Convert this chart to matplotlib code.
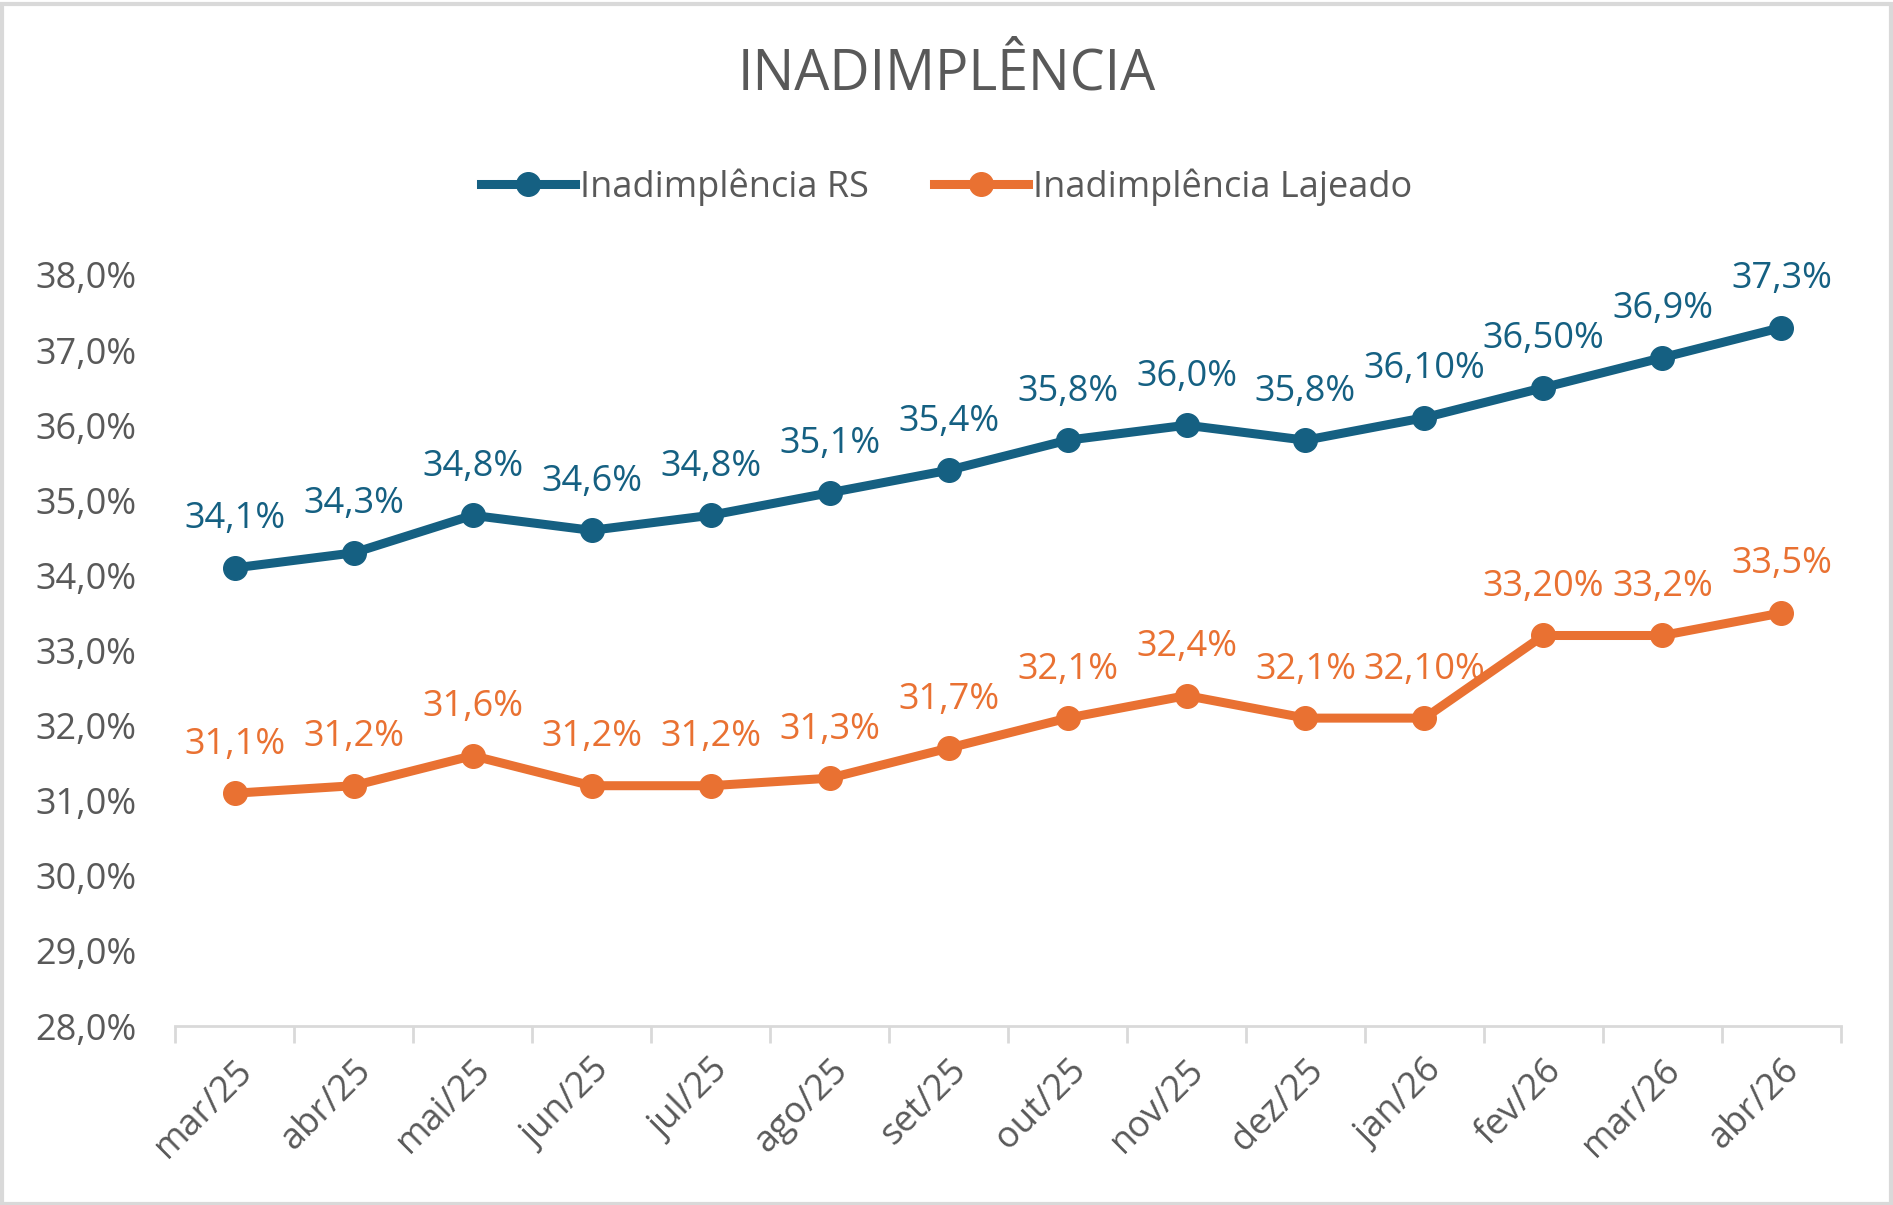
import matplotlib
matplotlib.use("Agg")
import matplotlib.pyplot as plt
from matplotlib.lines import Line2D
from matplotlib.patches import Rectangle

# Dados
meses = ["mar/25", "abr/25", "mai/25", "jun/25", "jul/25", "ago/25", "set/25",
         "out/25", "nov/25", "dez/25", "jan/26", "fev/26", "mar/26", "abr/26"]
inad_rs = [34.1, 34.3, 34.8, 34.6, 34.8, 35.1, 35.4, 35.8, 36.0, 35.8, 36.1, 36.5, 36.9, 37.3]
rotulos_rs = ["34,1%", "34,3%", "34,8%", "34,6%", "34,8%", "35,1%", "35,4%",
              "35,8%", "36,0%", "35,8%", "36,10%", "36,50%", "36,9%", "37,3%"]
inad_lajeado = [31.1, 31.2, 31.6, 31.2, 31.2, 31.3, 31.7, 32.1, 32.4, 32.1, 32.1, 33.2, 33.2, 33.5]
rotulos_lajeado = ["31,1%", "31,2%", "31,6%", "31,2%", "31,2%", "31,3%", "31,7%",
                   "32,1%", "32,4%", "32,1%", "32,10%", "33,20%", "33,2%", "33,5%"]
y_ticks = [28, 29, 30, 31, 32, 33, 34, 35, 36, 37, 38]

AZUL = "#156082"
LARANJA = "#E97132"
CINZA = "#595959"
CINZA_LINHA = "#D9D9D9"
FS = 26

plt.rcParams["font.family"] = ["Open Sans", "DejaVu Sans"]

fig = plt.figure(figsize=(18.93, 12.05), dpi=100)
ax = fig.add_axes([0.0925, 0.1485, 0.88, 0.6233])

x = list(range(len(meses)))
for serie, rotulos, cor in [(inad_rs, rotulos_rs, AZUL),
                            (inad_lajeado, rotulos_lajeado, LARANJA)]:
    ax.plot(x, serie, color=cor, lw=6.5, marker="o", ms=17, solid_capstyle="round",
            clip_on=False, zorder=3)
    for xi, yi, txt in zip(x, serie, rotulos):
        ax.annotate(txt, (xi, yi), xytext=(0, 35), textcoords="offset points",
                    ha="center", va="center", fontsize=FS, color=cor,
                    annotation_clip=False)

ax.set_xlim(-0.5, len(meses) - 0.5)
ax.set_ylim(28, 38)
ax.set_yticks(y_ticks)
ax.set_yticklabels([f"{v:.1f}%".replace(".", ",") for v in y_ticks])
ax.tick_params(axis="y", length=0, pad=28, labelsize=FS, labelcolor=CINZA)

# marcas entre categorias, rótulos no centro
ax.set_xticks([i - 0.5 for i in range(len(meses) + 1)])
ax.set_xticklabels([])
ax.set_xticks(x, minor=True)
ax.set_xticklabels(meses, minor=True, rotation=45, ha="right",
                   rotation_mode="anchor", fontsize=FS, color=CINZA)
ax.tick_params(axis="x", which="major", length=12, width=2, color=CINZA_LINHA)
ax.tick_params(axis="x", which="minor", length=0, pad=19)

for lado in ["top", "right", "left"]:
    ax.spines[lado].set_visible(False)
ax.spines["bottom"].set_color(CINZA_LINHA)
ax.spines["bottom"].set_linewidth(2)

fig.text(0.5, 0.938, "INADIMPLÊNCIA", ha="center", va="center",
         fontsize=40, color=CINZA)

handles = [Line2D([], [], color=AZUL, lw=6.5, marker="o", ms=17),
           Line2D([], [], color=LARANJA, lw=6.5, marker="o", ms=17)]
fig.legend(handles, ["Inadimplência RS", "Inadimplência Lajeado"],
           loc="center", bbox_to_anchor=(0.5, 0.845), ncol=2, frameon=False,
           fontsize=FS, labelcolor=CINZA, handlelength=2.6, handletextpad=0.15,
           columnspacing=1.8)

fig.patches.append(Rectangle((0.001, 0.001), 0.998, 0.996, transform=fig.transFigure,
                             fill=False, edgecolor=CINZA_LINHA, lw=3))

fig.savefig("out.png", dpi=100)
